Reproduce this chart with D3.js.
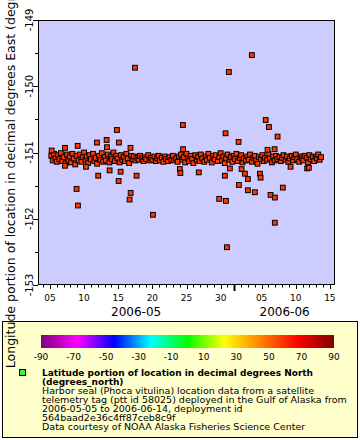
<!DOCTYPE html>
<html><head><meta charset="utf-8">
<script src="https://cdn.jsdelivr.net/npm/d3@7"></script>
<style>body{margin:0;background:#fff}svg{display:block;font-family:"DejaVu Sans",sans-serif}</style>
</head><body><svg id="c" width="360" height="440"></svg>
<script>
// day-of-May (fractional, June 1 = 32) and longitude (degrees east)
const bandFixes = [
[5.2,-151.05],[5.4,-151.12],[5.6,-151.02],[5.8,-151.09],
[6.0,-151.14],[6.2,-151.04],[6.4,-151.10],[6.6,-151.01],[6.8,-151.13],
[7.0,-151.07],[7.3,-151.16],[7.5,-151.03],[7.7,-151.11],[7.9,-151.06],
[8.1,-151.15],[8.3,-151.02],[8.5,-151.09],[8.7,-151.18],[8.9,-151.05],
[9.2,-151.12],[9.4,-151.03],[9.6,-151.14],[9.8,-151.07],
[10.0,-151.00],[10.2,-151.11],[10.4,-151.06],[10.6,-151.16],[10.8,-151.04],
[11.0,-151.10],[11.3,-151.02],[11.5,-151.13],[11.7,-151.08],[11.9,-151.17],
[12.2,-151.05],[12.4,-151.11],[12.6,-151.01],[12.8,-151.14],
[13.0,-151.07],[13.2,-151.12],[13.5,-151.03],[13.7,-151.15],[13.9,-151.06],
[14.1,-151.10],[14.3,-151.00],[14.5,-151.13],[14.7,-151.05],[14.9,-151.09],
[15.2,-151.15],[15.4,-151.04],[15.6,-151.11],[15.8,-151.07],
[16.0,-151.13],[16.2,-151.02],[16.4,-151.09],[16.6,-151.16],[16.9,-151.05],
[17.1,-151.10],[17.3,-151.06],[17.5,-151.12],[17.8,-151.08],
[18.0,-151.11],[18.2,-151.05],[18.5,-151.09],[18.7,-151.13],[18.9,-151.07],
[19.1,-151.10],[19.4,-151.04],[19.6,-151.12],[19.8,-151.08],
[20.0,-151.11],[20.3,-151.06],[20.5,-151.13],[20.7,-151.09],[20.9,-151.05],
[21.1,-151.12],[21.4,-151.08],[21.6,-151.14],[21.8,-151.06],
[22.0,-151.10],[22.3,-151.13],[22.5,-151.07],[22.8,-151.11],
[23.0,-151.05],[23.2,-151.12],[23.5,-151.09],[23.7,-151.14],[23.9,-151.06],
[24.2,-151.03],[24.4,-151.11],[24.6,-151.07],[24.8,-151.15],
[25.0,-151.02],[25.2,-151.09],[25.4,-151.13],[25.6,-151.05],[25.8,-151.10],
[26.0,-151.16],[26.3,-151.04],[26.5,-151.11],[26.7,-151.07],[26.9,-151.13],
[27.1,-151.03],[27.3,-151.09],[27.6,-151.14],[27.8,-151.06],
[28.0,-151.11],[28.2,-151.02],[28.4,-151.08],[28.7,-151.15],[28.9,-151.05],
[29.1,-151.10],[29.3,-151.04],[29.6,-151.13],[29.8,-151.07],
[30.0,-151.01],[30.2,-151.12],[30.4,-151.06],[30.6,-151.16],[30.8,-151.09],
[31.0,-151.03],[31.3,-151.11],[31.5,-151.07],[31.7,-151.14],[31.9,-151.05],
[32.1,-151.10],[32.3,-151.02],[32.5,-151.13],[32.8,-151.08],
[33.0,-151.04],[33.2,-151.15],[33.4,-151.09],[33.7,-151.12],[33.9,-151.06],
[34.1,-151.11],[34.3,-151.03],[34.6,-151.14],[34.8,-151.08],
[35.0,-151.05],[35.2,-151.12],[35.4,-151.17],[35.6,-151.07],[35.9,-151.10],
[36.1,-151.04],[36.3,-151.13],[36.5,-151.08],[36.8,-151.11],
[37.0,-151.02],[37.2,-151.09],[37.5,-151.15],[37.7,-151.06],[37.9,-151.12],
[38.1,-151.05],[38.3,-151.10],[38.6,-151.07],[38.8,-151.13],
[39.0,-151.08],[39.2,-151.04],[39.5,-151.11],[39.7,-151.06],[39.9,-151.14],
[40.1,-151.09],[40.4,-151.05],[40.6,-151.12],[40.8,-151.07],
[41.0,-151.03],[41.2,-151.10],[41.5,-151.14],[41.7,-151.06],[41.9,-151.09],
[42.1,-151.12],[42.3,-151.05],[42.6,-151.08],[42.8,-151.15],
[43.0,-151.04],[43.2,-151.10],[43.5,-151.07],[43.7,-151.13],[43.9,-151.06],
[44.1,-151.09],[44.3,-151.03],[44.5,-151.11],[44.7,-151.07]
];
const outlierFixes = [
[5.25,-150.97],[7.2,-150.93],[9.06,-150.90],[11.88,-150.85],[13.3,-150.81],[14.81,-150.66],
[15.1,-150.85],[13.35,-150.92],[16.8,-150.93],[24.5,-150.95],[30.72,-150.71],[32.63,-150.84],
[38.34,-150.76],[36.87,-150.96],[37.9,-150.95],
[7.2,-151.20],[10.27,-151.215],[12.07,-151.35],[13.74,-151.27],[15.35,-151.29],[17.69,-151.35],
[15.06,-151.43],[8.9,-151.55],[16.82,-151.61],[16.67,-151.71],[9.1,-151.80],[20.08,-151.94],
[24.03,-151.25],[24.1,-151.31],[26.8,-151.30],[30.62,-151.35],[31.35,-151.24],[33.07,-151.25],
[33.55,-151.32],[33.99,-151.40],[35.75,-151.32],[35.85,-151.38],[32.67,-151.49],[33.99,-151.57],
[35.01,-151.60],[37.31,-151.64],[37.94,-151.68],[39.11,-151.53],[29.79,-151.70],[30.77,-151.73],
[37.94,-152.06],[30.92,-152.43],[40.24,-151.215],[42.67,-151.24],[42.92,-151.23],
[17.45,-149.72],[31.2,-149.785],[34.57,-149.53],[24.47,-150.585],[36.6,-150.51],[37.07,-150.615]
];
const pointLatitude = 58;
const yTickValues = [-153,-152,-151,-150,-149];
const colorTickValues = [-90,-70,-50,-30,-10,10,30,50,70,90];
const paletteStops = [[-90,"#800080"],[-67.5,"#ff00ff"],[-45,"#0000ff"],[-22.5,"#00ffff"],[0,"#00ff00"],[22.5,"#ffff00"],[45,"#ff8000"],[67.5,"#ff0000"],[90,"#800000"]];
const monthLabels = ["2006-05","2006-06"];
const yTitle = "Longitude portion of location in decimal degrees East (degrees_east)";
const legendBold = ["Latitude portion of location in decimal degrees North","(degrees_north)"];
const legendLines = ["Harbor seal (Phoca vitulina) location data from a satellite",
"telemetry tag (ptt id 58025) deployed in the Gulf of Alaska from",
"2006-05-05 to 2006-06-14, deployment id","564baad2e36c4ff87ceb8c9f",
"Data courtesy of NOAA Alaska Fisheries Science Center"];

const svg = d3.select("#c");
const P = {l:38, r:335, t:20, b:285};
const dayToDate = d => new Date(Date.UTC(2006,4,1) + (d-1)*864e5);
const x = d3.scaleUtc().domain([new Date(Date.UTC(2006,4,3,6)), new Date(Date.UTC(2006,5,15,18))]).range([P.l,P.r]);
const y = d3.scaleLinear().domain([-153,-149]).range([P.b,P.t]);
const color = d3.scaleLinear().domain(paletteStops.map(s=>s[0])).range(paletteStops.map(s=>s[1]));

svg.append("rect").attr("x",P.l).attr("y",P.t).attr("width",P.r-P.l).attr("height",P.b-P.t).attr("fill","#ccccff");

const all = bandFixes.concat(outlierFixes);
const s = 4.8;
svg.append("g").selectAll("rect").data(all).join("rect")
  .attr("x",d=>x(dayToDate(d[0]))-s/2).attr("y",d=>y(d[1])-s/2)
  .attr("width",s).attr("height",s)
  .attr("fill",color(pointLatitude)).attr("stroke","#000").attr("stroke-width",1);

svg.append("rect").attr("x",P.l+0.5).attr("y",P.t+0.5).attr("width",P.r-P.l-1).attr("height",P.b-P.t-1).attr("fill","none").attr("stroke","#000");

// x axis ticks
const days = d3.utcDay.range(x.domain()[0], x.domain()[1]);
const gx = svg.append("g");
days.forEach(d=>{
  const dd = d.getUTCDate();
  const xx = Math.round(x(d))+0.5;
  const isMonth = dd===1, major = dd%5===0;
  gx.append("line").attr("x1",xx).attr("x2",xx).attr("y1",P.b).attr("y2",P.b+(isMonth?6:major?4:2.5))
    .attr("stroke","#000").attr("stroke-width",isMonth?2:1);
  if(major) gx.append("text").attr("x",x(d)).attr("y",300.5).attr("text-anchor","middle").attr("font-size",9).text(d3.utcFormat("%d")(d));
});
const jun1 = new Date(Date.UTC(2006,5,1));
svg.append("text").attr("x",(P.l+x(jun1))/2).attr("y",316).attr("text-anchor","middle").attr("font-size",12).text(monthLabels[0]);
svg.append("text").attr("x",(x(jun1)+P.r)/2).attr("y",316).attr("text-anchor","middle").attr("font-size",12).text(monthLabels[1]);

// y axis
const gy = svg.append("g");
d3.range(-153,-149+0.001,0.5).forEach(v=>{
  const yy = Math.round(y(v))+0.5;
  const major = Math.abs(v-Math.round(v))<1e-6;
  gy.append("line").attr("x1",P.l-(major?5:3)).attr("x2",P.l).attr("y1",yy).attr("y2",yy).attr("stroke","#000");
});
yTickValues.forEach(v=>{
  gy.append("text").attr("transform",`translate(33,${y(v)}) rotate(-90)`).attr("text-anchor","middle").attr("font-size",10).text(v);
});

// legend
const L = {x:2.5,y:321.5,w:355,h:116};
svg.append("rect").attr("x",L.x).attr("y",L.y).attr("width",L.w).attr("height",L.h).attr("fill","#ffffcc").attr("stroke","#000");
const cb = d3.scaleLinear().domain([-90,90]).range([41,334]);
const grad = svg.append("defs").append("linearGradient").attr("id","g1").attr("x1","0%").attr("x2","100%");
paletteStops.forEach(p=>grad.append("stop").attr("offset",((p[0]+90)/180*100)+"%").attr("stop-color",p[1]));
svg.append("rect").attr("x",cb(-90)).attr("y",335).attr("width",cb(90)-cb(-90)).attr("height",13).attr("fill","url(#g1)");
colorTickValues.forEach(v=>{
  svg.append("text").attr("x",cb(v)).attr("y",359.5).attr("text-anchor","middle").attr("font-size",9).text(v);
});
svg.append("rect").attr("x",19.5).attr("y",369.5).attr("width",6).attr("height",6).attr("fill","#40f040").attr("stroke","#000");
const base = [375.7,384.5,394,403,412,421,430];
legendBold.forEach((t,i)=>svg.append("text").attr("x",42).attr("y",base[i]).attr("font-size",9).attr("font-weight","bold").text(t));
legendLines.forEach((t,i)=>svg.append("text").attr("x",42).attr("y",base[i+2]).attr("font-size",9.5).text(t));

// y title
svg.append("text").attr("transform",`translate(15,${(P.t+P.b)/2}) rotate(-90)`).attr("text-anchor","middle").attr("font-size",12.5).text(yTitle);
</script></body></html>
